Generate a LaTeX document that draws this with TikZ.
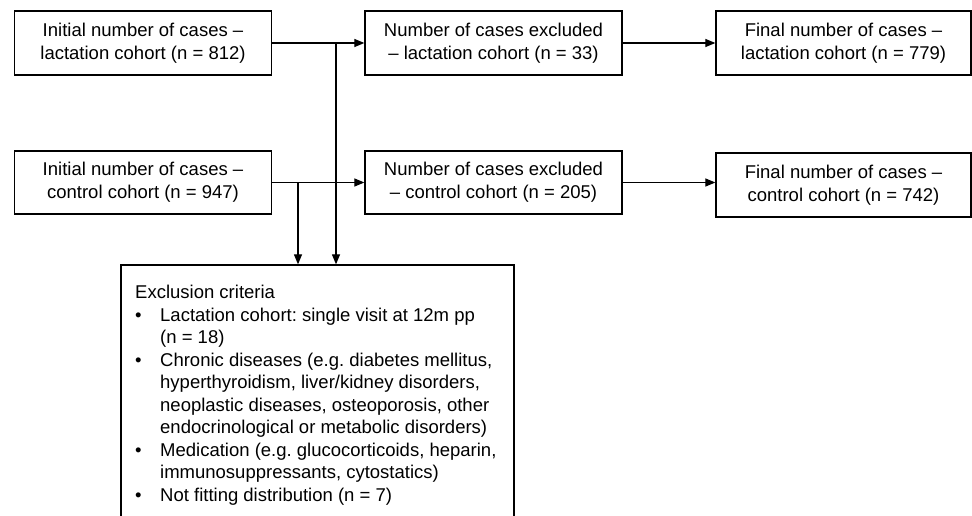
\documentclass[tikz,border=0pt]{standalone}
\usepackage{fontspec}
\setmainfont{Liberation Sans}
\usetikzlibrary{arrows.meta}
\frenchspacing
\begin{document}
\begin{tikzpicture}[x=1pt,y=-1pt,
  box/.style={draw, line width=1.3pt, rectangle, minimum width=257pt, minimum height=64pt, inner sep=0pt, align=center, font=\fontsize{18.5}{23}\selectfont},
  conn/.style={line width=1.2pt, -{Triangle[length=10pt,width=8pt]}},
  plain/.style={line width=1.2pt}]
\useasboundingbox (0,0) rectangle (972,516);
\clip (0,0) rectangle (972,516);
\node[box] (A) at (143,43) {Initial number of cases –\\lactation cohort (n = 812)};
\node[box] (B) at (493.5,43) {Number of cases excluded\\– lactation cohort (n = 33)};
\node[box, minimum width=255pt] (E) at (843.5,43) {Final number of cases –\\lactation cohort (n = 779)};
\node[box, minimum height=63pt] (C) at (143,182.5) {Initial number of cases –\\control cohort (n = 947)};
\node[box, minimum height=63pt] (D) at (493.5,182.5) {Number of cases excluded\\– control cohort (n = 205)};
\node[box, minimum width=255pt] (F) at (843.5,185) {Final number of cases –\\control cohort (n = 742)};
\node[draw, line width=1.3pt, rectangle, minimum width=393pt, minimum height=290pt, inner sep=0pt] (X) at (317.5,410) {};
\node[anchor=north west, inner sep=0pt, align=left, font=\fontsize{18.5}{22.5}\selectfont] (XT) at (135,285) {Exclusion criteria\\
\makebox[25pt][l]{•}Lactation cohort: single visit at 12m pp\\
\hspace*{25pt}(n = 18)\\
\makebox[25pt][l]{•}Chronic diseases (e.g. diabetes mellitus,\\
\hspace*{25pt}hyperthyroidism, liver/kidney disorders,\\
\hspace*{25pt}neoplastic diseases, osteoporosis, other\\
\hspace*{25pt}endocrinological or metabolic disorders)\\
\makebox[25pt][l]{•}Medication (e.g. glucocorticoids, heparin,\\
\hspace*{25pt}immunosuppressants, cytostatics)\\
\makebox[25pt][l]{•}Not fitting distribution (n = 7)};
\coordinate (J1) at (336,43);
\coordinate (J2) at (298,182.5);
\draw[conn] (A.east) -- (B.west);
\draw[conn] (C.east) -- (D.west);
\draw[conn] (B.east) -- (E.west);
\draw[conn] (D.east) -- (D.east -| F.west);
\draw[conn] (J1) -- (J1 |- X.north);
\draw[conn] (J2) -- (J2 |- X.north);
\end{tikzpicture}
\end{document}
